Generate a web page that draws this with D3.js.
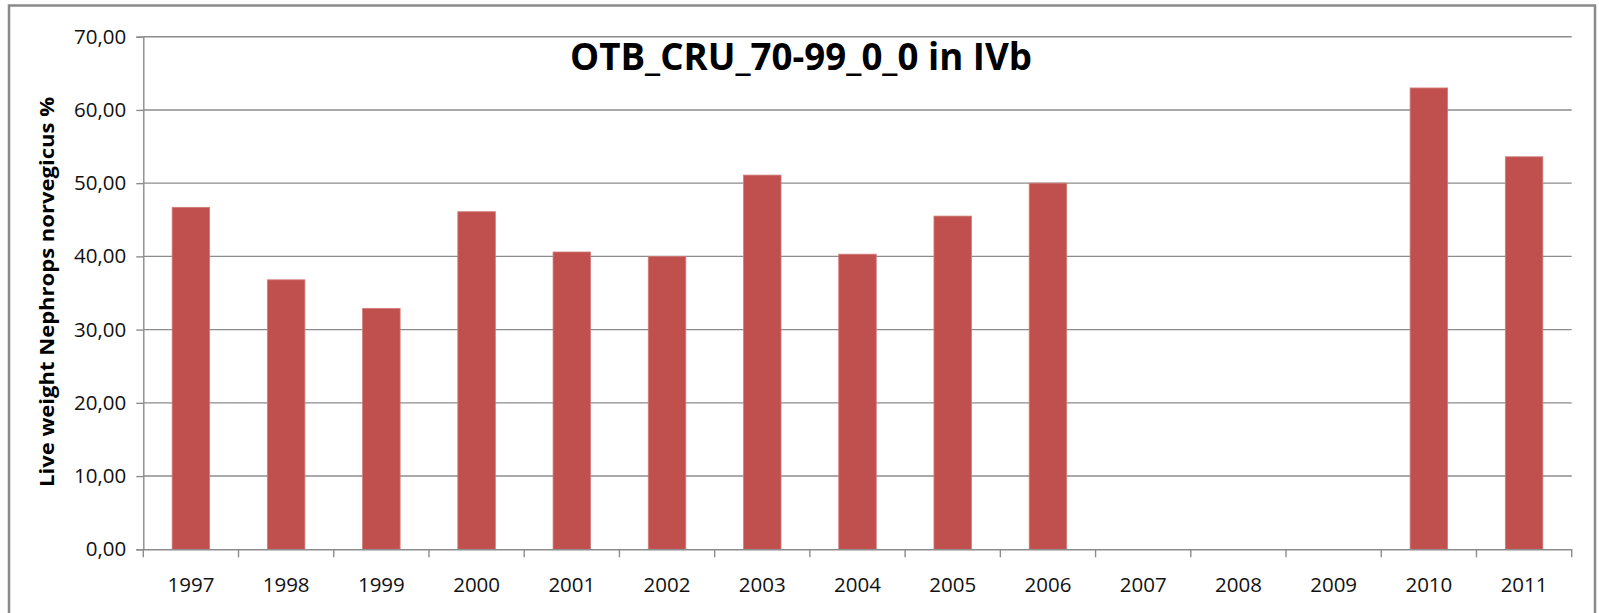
<!DOCTYPE html>
<html>
<head>
<meta charset="utf-8">
<script src="https://cdn.jsdelivr.net/npm/d3@7"></script>
<style>
  html, body { margin: 0; padding: 0; background: #fff; }
  svg { display: block; }
  .tick text { font-family: "Liberation Sans Narrow", "Open Sans", sans-serif; fill: #111; }
</style>
</head>
<body>
<svg id="chart" width="1599" height="613"></svg>
<script>
// chart data
const years = ['1997', '1998', '1999', '2000', '2001', '2002', '2003', '2004',
    '2005', '2006', '2007', '2008', '2009', '2010', '2011'];
const liveWeight = [46.7, 36.8, 32.9, 46.1, 40.6, 40.0, 51.1, 40.3,
    45.5, 50.0, null, null, null, 63.0, 53.6];
const yTicks = [0, 10, 20, 30, 40, 50, 60, 70];

const chartTitle = 'OTB_CRU_70-99_0_0 in IVb';
const yLabel = 'Live weight Nephrops norvegicus %';

const svg = d3.select('#chart');
const width = 1599, height = 613;
const margin = { top: 36.7, right: 27.3, bottom: 63.7, left: 143.3 };
const gray = '#8c8c8c';

// outer frame
svg.append('rect')
    .attr('x', 9)
    .attr('y', 5.5)
    .attr('width', 1586)
    .attr('height', 640)
    .attr('fill', '#fff')
    .attr('stroke', '#8a8a8a')
    .attr('stroke-width', 2.5);

const x = d3.scaleBand()
    .domain(years)
    .range([margin.left, width - margin.right])
    .paddingInner(0.606)
    .paddingOuter(0.303);

const y = d3.scaleLinear()
    .domain([0, 70])
    .range([height - margin.bottom, margin.top]);

const locale = d3.formatLocale({ decimal: ',', thousands: '.', grouping: [3], currency: ['', ''] });
const fmt = locale.format('.2f');

// gridlines
svg.append('g')
    .selectAll('line')
    .data(yTicks.filter(d => d > 0))
    .join('line')
    .attr('x1', margin.left)
    .attr('x2', width - margin.right)
    .attr('y1', d => y(d))
    .attr('y2', d => y(d))
    .attr('stroke', gray)
    .attr('stroke-width', 1.4);

// bars
const data = years.map((yr, i) => ({ year: yr, value: liveWeight[i] }))
    .filter(d => d.value != null);

svg.append('g')
    .selectAll('rect')
    .data(data)
    .join('rect')
    .attr('x', d => x(d.year))
    .attr('y', d => y(d.value))
    .attr('width', x.bandwidth())
    .attr('height', d => y(0) - y(d.value))
    .attr('fill', '#c0504d')
    .attr('stroke', '#d27c79')
    .attr('stroke-width', 0.8);

// y axis
const yAxis = svg.append('g')
    .attr('transform', `translate(${margin.left},0)`)
    .call(d3.axisLeft(y).tickValues(yTicks).tickFormat(fmt).tickSize(7).tickPadding(10));
yAxis.select('.domain').attr('stroke', gray).attr('stroke-width', 1.4);
yAxis.selectAll('.tick line').attr('stroke', gray).attr('stroke-width', 1.4);
yAxis.selectAll('.tick text').attr('font-size', 20.5);

// x axis: labels centred in each category, tick marks on category boundaries
const step = x.step();
const edge0 = margin.left;
const xAxis = svg.append('g')
    .attr('transform', `translate(0,${y(0)})`)
    .call(d3.axisBottom(x).tickSize(0).tickPadding(28));
xAxis.select('.domain').attr('stroke', gray).attr('stroke-width', 1.4);
xAxis.selectAll('.tick text').attr('font-size', 20.5);

svg.append('g')
    .selectAll('line')
    .data(d3.range(years.length + 1))
    .join('line')
    .attr('x1', i => edge0 + i * step)
    .attr('x2', i => edge0 + i * step)
    .attr('y1', y(0))
    .attr('y2', y(0) + 8)
    .attr('stroke', gray)
    .attr('stroke-width', 1.4);

// title
svg.append('text')
    .attr('x', 801)
    .attr('y', 70)
    .attr('text-anchor', 'middle')
    .attr('font-family', '"Liberation Sans Narrow", "Open Sans", sans-serif')
    .attr('font-weight', 'bold')
    .attr('font-size', 37)
    .attr('textLength', 462)
    .attr('lengthAdjust', 'spacingAndGlyphs')
    .attr('fill', '#000')
    .text(chartTitle);

// y axis title
svg.append('text')
    .attr('transform', `translate(54,292) rotate(-90)`)
    .attr('text-anchor', 'middle')
    .attr('font-family', '"Liberation Sans Narrow", "Open Sans", sans-serif')
    .attr('font-weight', 'bold')
    .attr('font-size', 20)
    .attr('textLength', 390)
    .attr('lengthAdjust', 'spacingAndGlyphs')
    .attr('fill', '#000')
    .text(yLabel);
</script>
</body>
</html>
